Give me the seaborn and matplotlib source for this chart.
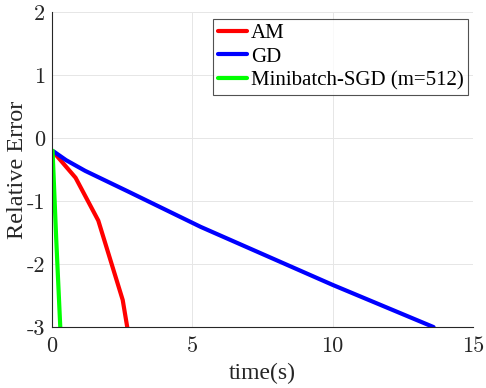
import pandas as pd
import matplotlib
matplotlib.use("Agg")
import matplotlib.pyplot as plt
import seaborn as sns

# values
am_time = [0.05, 0.84, 1.65, 2.52, 2.70]
am_err = [-0.22, -0.63, -1.31, -2.57, -3.05]
gd_time = [0.05, 0.5, 1.18, 2.72, 5.3, 10.0, 13.6]
gd_err = [-0.21, -0.35, -0.52, -0.85, -1.41, -2.33, -3.0]
sgd_time = [0.02, 0.15, 0.30]
sgd_err = [-0.2, -1.6, -3.05]

series = [("AM", am_time, am_err, "#ff0000"),
          ("GD", gd_time, gd_err, "#0000ff"),
          ("Minibatch-SGD (m=512)", sgd_time, sgd_err, "#00ff00")]

sns.set_style("white")
plt.rcParams["font.family"] = ["Liberation Serif", "DejaVu Serif"]
plt.rcParams["axes.unicode_minus"] = False

fig, ax = plt.subplots(figsize=(4.86, 3.88), dpi=100)
fig.subplots_adjust(left=0.107, right=0.973, top=0.969, bottom=0.157)

for name, t, e, c in series:
    df = pd.DataFrame({"time": t, "err": e})
    sns.lineplot(data=df, x="time", y="err", ax=ax, color=c, linewidth=3.0,
                 sort=False, estimator=None, label=name)

ax.set_xlim(0, 15)
ax.set_ylim(-3, 2)
ax.set_xticks([0, 5, 10, 15])
ax.set_yticks([-3, -2, -1, 0, 1, 2])
ax.set_xlabel("time(s)", fontsize=17, color="#262626", labelpad=5)
ax.set_ylabel("Relative Error", fontsize=17.5, color="#262626", labelpad=-1)
ax.grid(True, color="#e6e6e6", linewidth=0.7)
ax.set_axisbelow(True)
for s in ["top", "right"]:
    ax.spines[s].set_visible(False)
for s in ["left", "bottom"]:
    ax.spines[s].set_color("#262626")
    ax.spines[s].set_linewidth(0.8)
ax.tick_params(direction="in", length=4, width=0.8, colors="#262626", pad=5)
ax.tick_params(axis="x", pad=7)
for lab in ax.get_xticklabels() + ax.get_yticklabels():
    lab.set_fontfamily("cmr10")
    lab.set_fontsize(16)

leg = ax.legend(loc="upper right", bbox_to_anchor=(0.988, 0.977), fontsize=15,
                frameon=True, fancybox=False, edgecolor="#262626",
                handlelength=1.4, handletextpad=0.2, borderpad=0.2,
                labelspacing=0.2, borderaxespad=0)
leg.get_frame().set_linewidth(0.8)
for txt in leg.get_texts():
    txt.set_color("#000000")

fig.savefig("out.png", dpi=100)
